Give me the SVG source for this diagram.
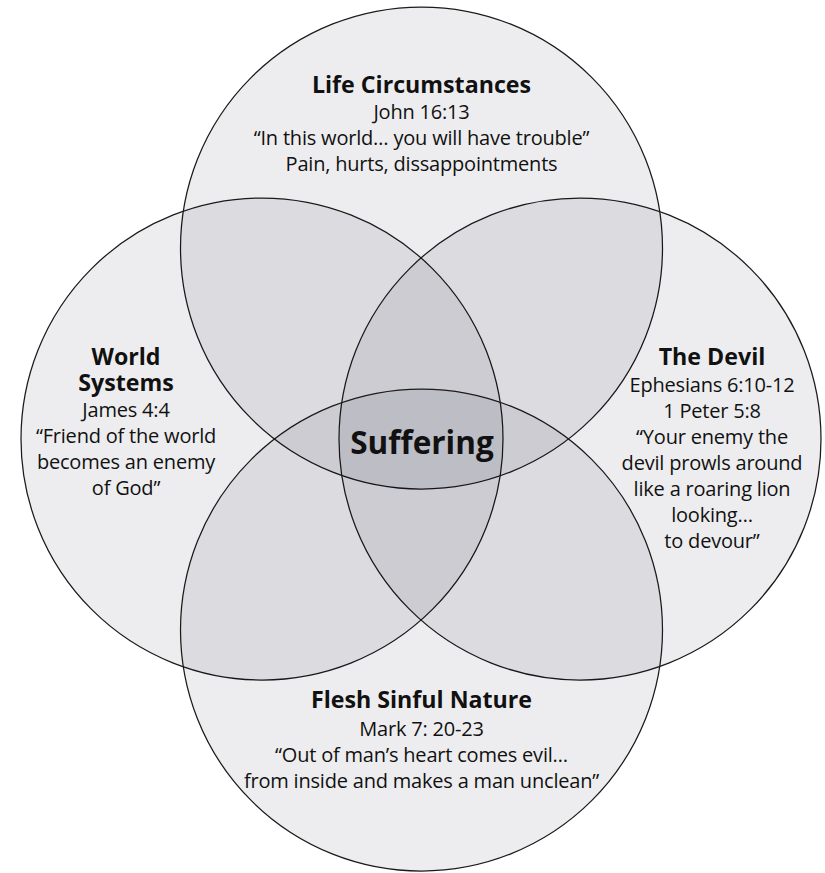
<svg xmlns="http://www.w3.org/2000/svg" width="825" height="873" viewBox="0 0 825 873">
  <style>
    .ring { fill: #06061a; fill-opacity: 0.072; stroke: #1a1a1a; stroke-width: 1.25; }
    text { font-family: "Open Sans", "Noto Sans", "DejaVu Sans", sans-serif; fill: #111; text-anchor: middle; }
    .head { font-weight: 700; font-size: 23.2px; }
    .body { font-size: 20px; letter-spacing: -0.2px; }
    .core { font-weight: 700; font-size: 31.5px; }
  </style>
  <rect width="825" height="873" fill="#ffffff"/>

  <!-- four overlapping circles, darker where they stack -->
  <g id="life-circumstances">
    <circle class="ring" cx="421.5" cy="248" r="241"/>
    <text class="head" x="421.5" y="92.5">Life Circumstances</text>
    <text class="body" x="421.5" y="119">John 16:13</text>
    <text class="body" x="421.5" y="145">“In this world… you will have trouble”</text>
    <text class="body" x="421.5" y="171">Pain, hurts, dissappointments</text>
  </g>

  <g id="world-systems">
    <circle class="ring" cx="262" cy="439" r="241"/>
    <text class="head" x="126" y="365">World<tspan x="126" dy="26">Systems</tspan></text>
    <text class="body" x="126" y="417">James 4:4</text>
    <text class="body" x="126" y="443">“Friend of the world</text>
    <text class="body" x="126" y="469">becomes an enemy</text>
    <text class="body" x="126" y="495">of God”</text>
  </g>

  <g id="the-devil">
    <circle class="ring" cx="580" cy="439" r="241"/>
    <text class="head" x="712" y="365">The Devil</text>
    <text class="body" x="712" y="391.5">Ephesians 6:10-12</text>
    <text class="body" x="712" y="417.5">1 Peter 5:8</text>
    <text class="body" x="712" y="443.5">“Your enemy the</text>
    <text class="body" x="712" y="469.5">devil prowls around</text>
    <text class="body" x="712" y="495.5">like a roaring lion</text>
    <text class="body" x="712" y="521.5">looking…</text>
    <text class="body" x="712" y="547.5">to devour”</text>
  </g>

  <g id="flesh-sinful-nature">
    <circle class="ring" cx="421.5" cy="630" r="241"/>
    <text class="head" x="421.5" y="708">Flesh Sinful Nature</text>
    <text class="body" x="421.5" y="735.5">Mark 7: 20-23</text>
    <text class="body" x="421.5" y="761.5">“Out of man’s heart comes evil…</text>
    <text class="body" x="421.5" y="787.5">from inside and makes a man unclean”</text>
  </g>

  <g id="suffering">
    <text class="core" x="422" y="454">Suffering</text>
  </g>

  <g id="connectors"/>
</svg>
